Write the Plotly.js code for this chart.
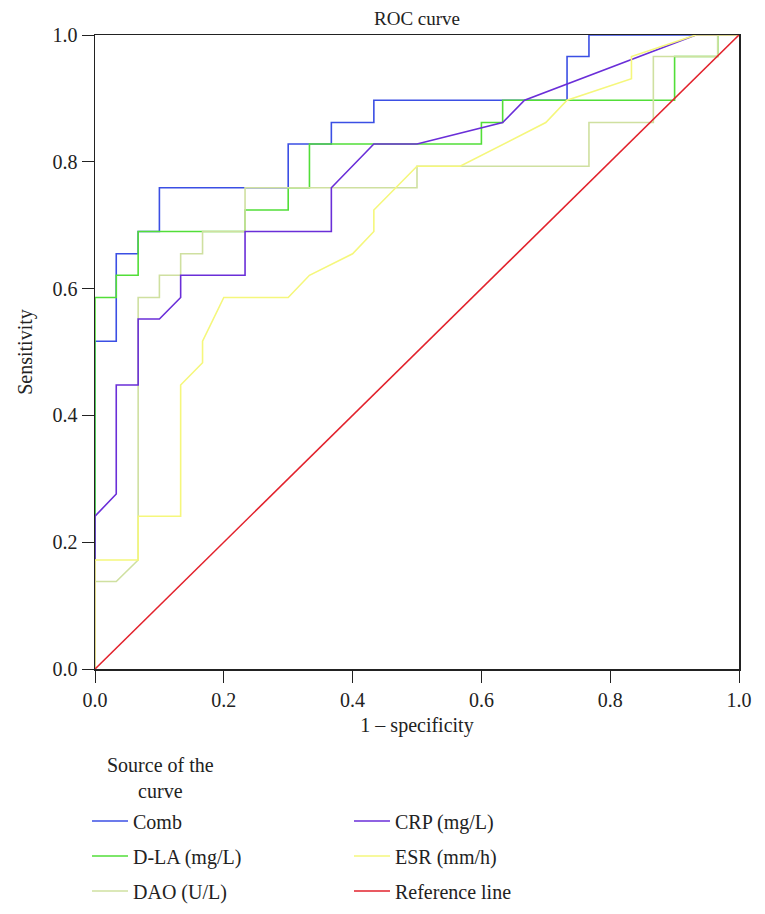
<!DOCTYPE html>
<html>
<head>
<meta charset="utf-8">
<script src="https://cdn.plot.ly/plotly-3.0.1.min.js"></script>
<style>
  body { margin: 0; background: #fff; }
  #roc { width: 765px; height: 914px; }
</style>
</head>
<body>
<div id="roc"></div>
<script>
// ROC curves (1 - specificity, sensitivity)
var combX = [0, 0, 0.033, 0.033, 0.067, 0.067, 0.1, 0.1, 0.3, 0.3, 0.367, 0.367, 0.433, 0.433, 0.733, 0.733, 0.767, 0.767, 1];
var combY = [0, 0.517, 0.517, 0.655, 0.655, 0.690, 0.690, 0.759, 0.759, 0.828, 0.828, 0.862, 0.862, 0.897, 0.897, 0.966, 0.966, 1, 1];

var dlaX = [0, 0, 0.033, 0.033, 0.067, 0.067, 0.233, 0.233, 0.3, 0.3, 0.333, 0.333, 0.6, 0.6, 0.633, 0.633, 0.9, 0.9, 0.967, 0.967, 1];
var dlaY = [0, 0.586, 0.586, 0.621, 0.621, 0.690, 0.690, 0.724, 0.724, 0.759, 0.759, 0.828, 0.828, 0.862, 0.862, 0.897, 0.897, 0.966, 0.966, 1, 1];

var daoX = [0, 0, 0.033, 0.067, 0.067, 0.1, 0.1, 0.133, 0.133, 0.167, 0.167, 0.233, 0.233, 0.5, 0.5, 0.767, 0.767, 0.867, 0.867, 0.967, 0.967, 1];
var daoY = [0, 0.138, 0.138, 0.172, 0.586, 0.586, 0.621, 0.621, 0.655, 0.655, 0.690, 0.690, 0.759, 0.759, 0.793, 0.793, 0.862, 0.862, 0.966, 0.966, 1, 1];

var crpX = [0, 0, 0.033, 0.033, 0.067, 0.067, 0.1, 0.133, 0.133, 0.233, 0.233, 0.367, 0.367, 0.433, 0.5, 0.633, 0.667, 0.933, 1];
var crpY = [0, 0.241, 0.276, 0.448, 0.448, 0.552, 0.552, 0.586, 0.621, 0.621, 0.690, 0.690, 0.759, 0.828, 0.828, 0.862, 0.897, 1, 1];

var esrX = [0, 0, 0.067, 0.067, 0.133, 0.133, 0.167, 0.167, 0.2, 0.3, 0.333, 0.4, 0.433, 0.433, 0.5, 0.567, 0.7, 0.733, 0.833, 0.833, 0.933, 1];
var esrY = [0, 0.172, 0.172, 0.241, 0.241, 0.448, 0.483, 0.517, 0.586, 0.586, 0.621, 0.655, 0.690, 0.724, 0.793, 0.793, 0.862, 0.897, 0.931, 0.966, 1, 1];

var refX = [0, 1];
var refY = [0, 1];

var tickVals = [0, 0.2, 0.4, 0.6, 0.8, 1.0];
var tickText = ["0.0", "0.2", "0.4", "0.6", "0.8", "1.0"];

var serif = "Liberation Serif, Times New Roman, serif";

function curve(x, y, name, color, leg) {
  return {
    x: x, y: y, name: name,
    type: "scatter", mode: "lines",
    line: { color: color, width: 1.6 },
    legend: leg, legendgroup: name,
    hoverinfo: "skip"
  };
}

var data = [
  curve(combX, combY, "Comb", "#3b4fe4", "legend"),
  curve(dlaX, dlaY, "D-LA (mg/L)", "#52de38", "legend"),
  curve(daoX, daoY, "DAO (U/L)", "#cfe0a0", "legend"),
  curve(crpX, crpY, "CRP (mg/L)", "#6a2ed8", "legend2"),
  curve(esrX, esrY, "ESR (mm/h)", "#f5f77c", "legend2"),
  curve(refX, refY, "Reference line", "#e2222c", "legend2")
];

var axisStyle = {
  range: [0, 1],
  tickvals: tickVals,
  ticktext: tickText,
  showgrid: false,
  zeroline: false,
  showline: true,
  mirror: true,
  linecolor: "#222",
  linewidth: 1.5,
  ticks: "outside",
  ticklen: 12,
  tickcolor: "#222",
  tickfont: { family: serif, size: 20, color: "#222" }
};

// two small legends under the plot; margins fixed so nothing gets squeezed
var legendStyle = {
  font: { family: serif, size: 20, color: "#222" },
  tracegroupgap: 6,
  itemwidth: 36,
  bgcolor: "rgba(0,0,0,0)",
  xanchor: "left", yanchor: "top",
  y: -0.209
};

var layout = {
  width: 765,
  height: 914,
  margin: { l: 95, r: 26, t: 35, b: 245, autoexpand: false },
  paper_bgcolor: "#fff",
  plot_bgcolor: "#fff",
  showlegend: true,
  title: {
    text: "ROC curve",
    font: { family: serif, size: 19, color: "#222" },
    x: 0.5, xref: "paper",
    y: 0.98, yref: "container", yanchor: "middle"
  },
  xaxis: Object.assign({}, axisStyle, {
    title: { text: "1 \u2013 specificity", font: { family: serif, size: 20, color: "#222" }, standoff: 8 }
  }),
  yaxis: Object.assign({}, axisStyle, {
    title: { text: "Sensitivity", font: { family: serif, size: 20, color: "#222" }, standoff: 14 }
  }),
  legend: Object.assign({}, legendStyle, { x: -0.0124 }),
  legend2: Object.assign({}, legendStyle, { x: 0.3944 }),
  annotations: [{
    text: "Source of the<br>curve",
    xref: "paper", yref: "paper",
    x: 0.101, y: -0.172,
    xanchor: "center", yanchor: "middle",
    showarrow: false,
    align: "center",
    font: { family: serif, size: 20, color: "#222" }
  }]
};

Plotly.newPlot("roc", data, layout, { displayModeBar: false, staticPlot: true });
</script>
</body>
</html>
